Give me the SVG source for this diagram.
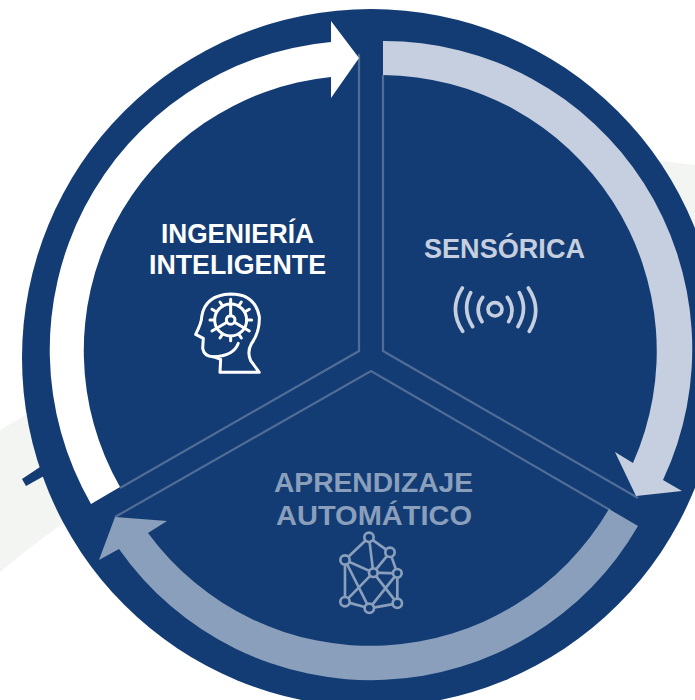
<svg xmlns="http://www.w3.org/2000/svg" width="695" height="700" viewBox="0 0 695 700">
<style>
.t{font-family:"Liberation Sans",Arial,sans-serif;font-weight:700;font-size:27px;text-anchor:start}
.ln{fill:none;stroke:#4f6d96;stroke-width:2.2}
.ic{fill:none;stroke-linecap:round;stroke-linejoin:round}
</style>
<rect width="695" height="700" fill="#fff"/>
<path d="M0,430 L60,395 L200,300 L655,160 L695,165 L695,300 L300,400 Q120,470 0,572 Z" fill="#f3f5f3"/>
<path d="M22,479 L40,467 L60,467 L44,476 L26,486 Z" fill="#143c74"/>
<circle cx="371" cy="358" r="349" fill="#143c74"/>
<g id="connectors">
<path class="ln" d="M359,54 V351 L120,488"/>
<path class="ln" d="M383,75 V351 L638,498"/>
<path class="ln" d="M115,517 L371,371 L610,510"/>
<path id="arrow-ingenieria" d="M120,487 A275,275 0 0 1 331,77 L331,98 L359,58 L331,21 L331,42 A309,309 0 0 0 91,504 Z" fill="#fff"/>
<path id="arrow-sensorica" d="M383,41 A308,308 0 0 1 663,480 L682,491 L636,496 L615,452 L633,463 A276,276 0 0 0 383,75 Z" fill="#c5cfdf"/>
<path id="arrow-aprendizaje" d="M638,526 A308,308 0 0 1 119,549 L99,560 L115,517 L167,521 L148,533 A276,276 0 0 0 609,509 Z" fill="#8a9fbc"/>
</g>
<g id="node-ingenieria">
<text class="t" x="161" y="243" fill="#fff" textLength="153" lengthAdjust="spacingAndGlyphs">INGENIERÍA</text>
<text class="t" x="149" y="274" fill="#fff" textLength="177" lengthAdjust="spacingAndGlyphs">INTELIGENTE</text>
<g class="ic" transform="translate(130,200) scale(.3333)" stroke="#fff" stroke-width="9">
<path d="M270,517 H388 L362,482 Q350,455 365,430 Q390,395 388,350 Q375,282 302,282 Q225,285 215,350 Q216,365 197,403 L220,415 L218,445 Q222,470 250,470 L272,478 Z"/>
<path d="M325,430 Q310,470 250,470"/>
<circle cx="302" cy="360" r="13"/>
<circle cx="302" cy="360" r="48"/>
<path d="M302,347 V312 M291,367 L260,385 M313,367 L344,385"/>
<path d="M302,312 V298 M326,318 L334,306 M344,336 L358,328 M350,360 H365 M344,385 L358,393 M326,402 L334,414 M302,408 V422 M278,402 L270,414 M260,385 L246,393 M254,360 H240 M260,336 L246,328 M278,318 L270,306"/>
</g>
</g>
<g id="node-sensorica">
<text class="t" x="424" y="258" fill="#c5cfdf" textLength="161" lengthAdjust="spacingAndGlyphs">SENSÓRICA</text>
<g class="ic" transform="translate(400,220) scale(.3333)" stroke="#c5cfdf" stroke-width="11">
<ellipse cx="285" cy="268" rx="21" ry="20"/>
<path d="M248,232 Q222,268 246,305 M322,232 Q348,268 326,305"/>
<path d="M212,218 Q185,268 218,320 M358,218 Q385,268 354,320"/>
<path d="M187,204 Q145,268 188,334 M385,204 Q428,268 388,334"/>
</g>
</g>
<g id="node-aprendizaje">
<text class="t" x="274" y="492" fill="#8a9fbc" textLength="199" lengthAdjust="spacingAndGlyphs">APRENDIZAJE</text>
<text class="t" x="276" y="525" fill="#8a9fbc" textLength="196" lengthAdjust="spacingAndGlyphs">AUTOMÁTICO</text>
<g class="ic" transform="translate(260,460) scale(.3333)" stroke="#8a9fbc" stroke-width="8">
<path d="M327,232 L390,277 L412,340 L412,430 L328,445 L255,425 L255,300 Z M327,232 L340,338 M255,300 L340,338 L412,340 M390,277 L340,338 L255,425 M255,300 L328,445 M340,338 L412,430 M412,340 L328,445"/>
<g fill="#143c74">
<circle cx="327" cy="232" r="14"/><circle cx="390" cy="277" r="14"/><circle cx="255" cy="300" r="14"/><circle cx="340" cy="338" r="13"/><circle cx="412" cy="340" r="13"/><circle cx="255" cy="425" r="14"/><circle cx="328" cy="445" r="14"/><circle cx="412" cy="430" r="14"/>
</g>
</g>
</g>
</svg>
